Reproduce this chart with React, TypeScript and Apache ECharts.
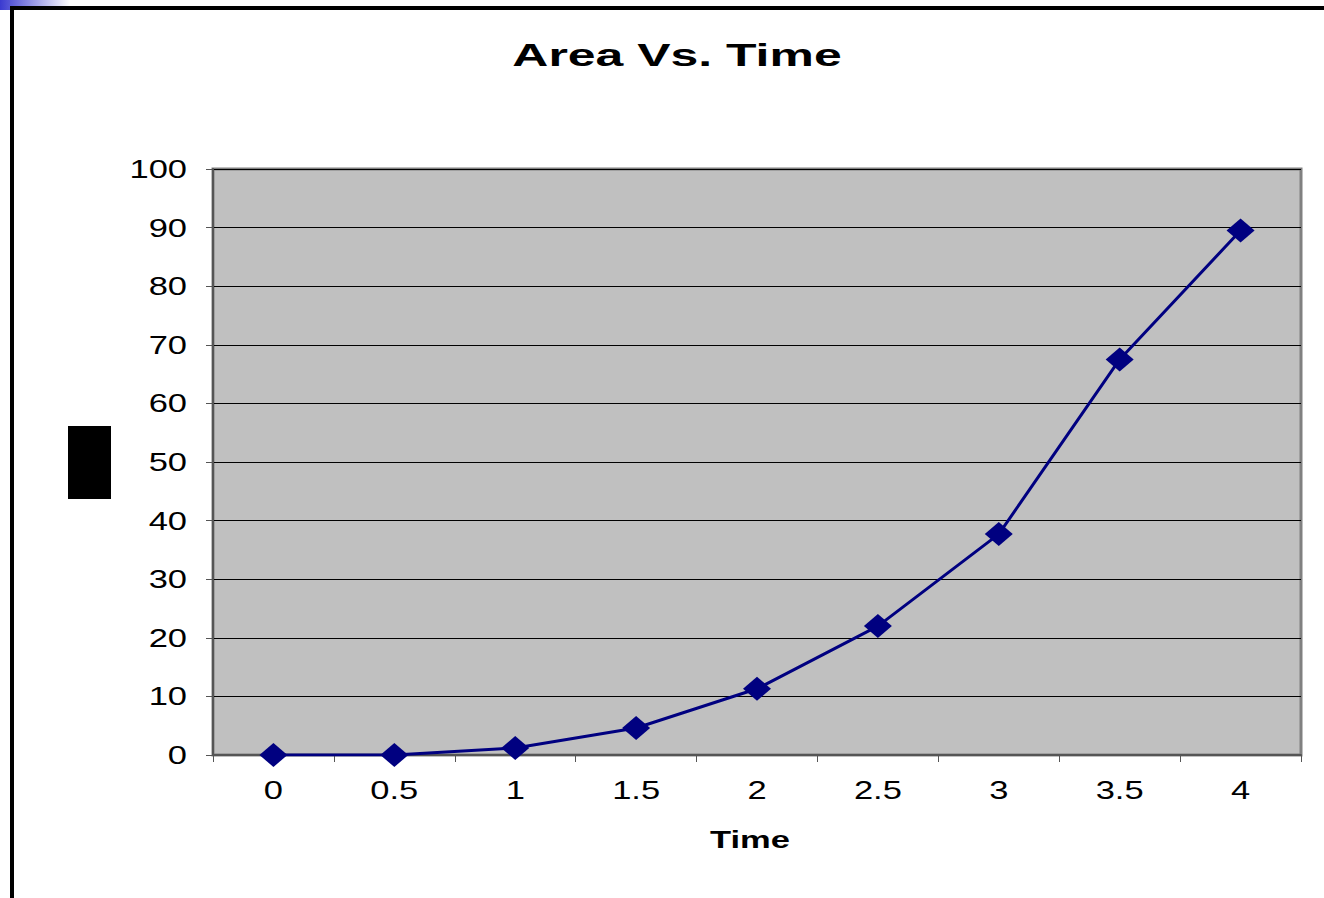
import React, { useEffect, useRef } from "react";
import * as echarts from "echarts";

const timeCategories = ["0", "0.5", "1", "1.5", "2", "2.5", "3", "3.5", "4"];
const areaValues = [0, 0, 1.2, 4.6, 11.3, 22, 37.7, 67.5, 89.5];
const yTicks = { min: 0, max: 100, interval: 10 };
const titleText = "Area Vs. Time";
const xAxisName = "Time";

function stretchTexts(root: HTMLElement) {
  const texts = root.querySelectorAll("svg text");
  texts.forEach((node) => {
    const t = node as SVGTextElement;
    if (t.getAttribute("data-stretched")) return;
    const style = t.getAttribute("style") || "";
    const bold = /bold|700/.test(style);
    const big = /font-size:\s*3\d/.test(style) || /32px/.test(style);
    const factor = big ? 1.56 : bold ? 1.5 : 1.38;
    const len = t.getComputedTextLength();
    if (!len) return;
    t.setAttribute("textLength", String(len * factor));
    t.setAttribute("lengthAdjust", "spacingAndGlyphs");
    t.setAttribute("data-stretched", "1");
  });
}

export default function App() {
  const ref = useRef<HTMLDivElement>(null);
  useEffect(() => {
    if (!ref.current) return;
    const el = ref.current;
    const chart = echarts.init(el, null, { renderer: "svg" });
    const font = "'Liberation Sans', Arial, sans-serif";
    chart.setOption({
      animation: false,
      backgroundColor: "#ffffff",
      grid: {
        left: 213,
        right: 23,
        top: 169,
        bottom: 143,
        show: true,
        backgroundColor: "#c0c0c0",
        borderColor: "#808080",
        borderWidth: 3,
      },
      xAxis: {
        type: "category",
        data: timeCategories,
        boundaryGap: true,
        axisLine: { show: true, lineStyle: { color: "#555", width: 2 } },
        axisTick: { show: true, length: 7, alignWithLabel: false, lineStyle: { color: "#555", width: 1 } },
        axisLabel: { fontSize: 25, color: "#000", margin: 22, fontFamily: font },
        splitLine: { show: false },
      },
      yAxis: {
        type: "value",
        min: yTicks.min,
        max: yTicks.max,
        interval: yTicks.interval,
        axisLine: { show: true, lineStyle: { color: "#555", width: 2 } },
        axisTick: { show: true, length: 7, lineStyle: { color: "#555", width: 1 } },
        axisLabel: { fontSize: 25, color: "#000", margin: 26, fontFamily: font },
        splitLine: { show: true, lineStyle: { color: "#000", width: 1 } },
      },
      series: [
        {
          type: "line",
          data: areaValues,
          symbol: "diamond",
          symbolSize: [28, 24],
          showAllSymbol: true,
          lineStyle: { color: "#000080", width: 3 },
          itemStyle: { color: "#000080" },
        },
      ],
      graphic: [
        {
          type: "rect",
          shape: { x: 0, y: 0, width: 70, height: 10 },
          style: {
            fill: new echarts.graphic.LinearGradient(0, 0, 1, 0, [
              { offset: 0, color: "#3a3ad0" },
              { offset: 1, color: "#ffffff" },
            ]),
          },
          z: 0,
        },
        { type: "rect", shape: { x: 10, y: 6, width: 1314, height: 4 }, style: { fill: "#000" }, z: 5 },
        { type: "rect", shape: { x: 10, y: 6, width: 4, height: 892 }, style: { fill: "#000" }, z: 5 },
        { type: "rect", shape: { x: 68, y: 426, width: 43, height: 73 }, style: { fill: "#000" }, z: 5 },
        {
          type: "text",
          x: 677,
          y: 55,
          z: 6,
          style: {
            text: titleText,
            fontSize: 32,
            fontWeight: "bold",
            fontFamily: font,
            fill: "#000",
            textAlign: "center",
            textVerticalAlign: "middle",
          },
        },
        {
          type: "text",
          x: 750,
          y: 840,
          z: 6,
          style: {
            text: xAxisName,
            fontSize: 23,
            fontWeight: "bold",
            fontFamily: font,
            fill: "#000",
            textAlign: "center",
            textVerticalAlign: "middle",
          },
        },
      ],
    });
    stretchTexts(el);
    const onFinished = () => stretchTexts(el);
    chart.on("finished", onFinished);
    const timer = window.setTimeout(() => stretchTexts(el), 50);
    return () => {
      window.clearTimeout(timer);
      chart.dispose();
    };
  }, []);
  return (
    <div
      ref={ref}
      style={{ position: "absolute", left: 0, top: 0, width: 1324, height: 898 }}
    />
  );
}
